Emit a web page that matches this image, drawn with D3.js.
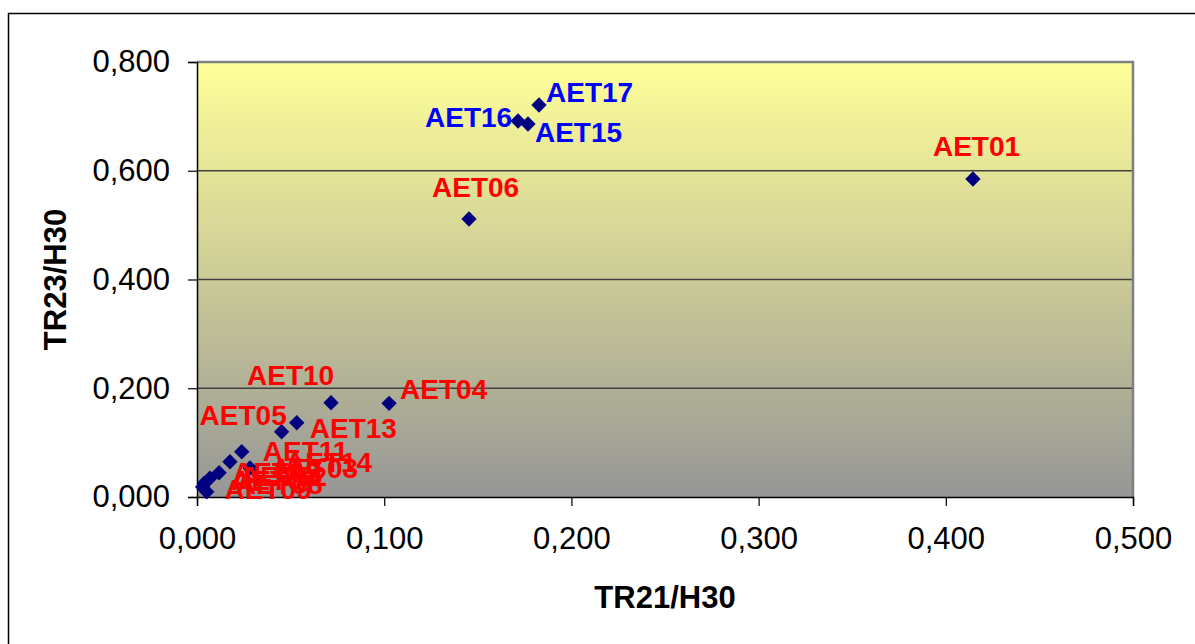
<!DOCTYPE html>
<html>
<head>
<meta charset="utf-8">
<script src="https://cdn.jsdelivr.net/npm/d3@7"></script>
<style>
  body { margin: 0; background: #fff; }
  svg { display: block; font-family: "Liberation Sans", Arial, sans-serif; }
</style>
</head>
<body>
<script>
// data
const names = ['AET01','AET02','AET03','AET04','AET05','AET06','AET07','AET08','AET09',
               'AET10','AET11','AET12','AET13','AET14','AET15','AET16','AET17'];
const xVals = [0.4145, 0.0118, 0.0283, 0.1026, 0.0452, 0.1453, 0.0039, 0.0052, 0.0030,
               0.0716, 0.0239, 0.0069, 0.0533, 0.0176, 0.1768, 0.1715, 0.1827];
const yVals = [0.5848, 0.0447, 0.0533, 0.1723, 0.1200, 0.5113, 0.0252, 0.0097, 0.0184,
               0.1734, 0.0833, 0.0344, 0.1366, 0.0649, 0.6860, 0.6915, 0.7209];
const blueGroup = ['AET15','AET16','AET17'];
const xTicks = [0, 0.1, 0.2, 0.3, 0.4, 0.5];
const yTicks = [0, 0.2, 0.4, 0.6, 0.8];

// label placement relative to the marker (left, baseline)
const labelOffset = {
  AET01: [-40, -23], AET02: [14, 9],  AET03: [21, 10], AET04: [11, -4],
  AET05: [-82, -7],  AET06: [-37, -22], AET07: [27, 7], AET08: [29, 2],
  AET09: [22, 12],   AET10: [-84, -18], AET11: [21, 9], AET12: [30, 8],
  AET13: [13, 15],   AET14: [55, 10], AET15: [7, 18], AET16: [-93, 6],
  AET17: [7, -3]
};

const width = 1195, height = 644;
const margin = {left: 197, right: 62, top: 62, bottom: 147};
const innerW = width - margin.left - margin.right;
const innerH = height - margin.top - margin.bottom;

const fmt = d => d3.format('.3f')(d).replace('.', ',');

const svg = d3.select('body').append('svg')
  .attr('width', width).attr('height', height);

// chart border
svg.append('rect')
  .attr('x', 8.5).attr('y', 13.5)
  .attr('width', width + 20).attr('height', height + 20)
  .attr('fill', '#fff').attr('stroke', '#000').attr('stroke-width', 1.5);

const defs = svg.append('defs');
const grad = defs.append('linearGradient').attr('id', 'bg')
  .attr('x1', 0).attr('y1', 0).attr('x2', 0).attr('y2', 1);
grad.append('stop').attr('offset', '0%').attr('stop-color', '#ffff99');
grad.append('stop').attr('offset', '100%').attr('stop-color', '#969696');

const g = svg.append('g').attr('transform', `translate(${margin.left},${margin.top})`);

const x = d3.scaleLinear().domain([0, 0.5]).range([0, innerW]);
const y = d3.scaleLinear().domain([0, 0.8]).range([innerH, 0]);

g.append('rect')
  .attr('width', innerW).attr('height', innerH)
  .attr('fill', 'url(#bg)');

// gridlines
g.selectAll('.grid').data(yTicks.filter(t => t > 0 && t < 0.8))
  .enter().append('line')
  .attr('x1', 0).attr('x2', innerW)
  .attr('y1', d => y(d)).attr('y2', d => y(d))
  .attr('stroke', '#404040').attr('stroke-width', 1.3);

// plot frame (top and right)
g.append('path')
  .attr('d', `M0,0H${innerW}V${innerH}`)
  .attr('fill', 'none').attr('stroke', '#808080').attr('stroke-width', 2.5);

// axes
const xAxis = g.append('g').attr('transform', `translate(0,${innerH})`)
  .call(d3.axisBottom(x).tickValues(xTicks).tickFormat(fmt).tickSize(9).tickPadding(21));
const yAxis = g.append('g')
  .call(d3.axisLeft(y).tickValues(yTicks).tickFormat(fmt).tickSize(9).tickPadding(18));

[xAxis, yAxis].forEach(a => {
  a.select('.domain').attr('stroke', '#000').attr('stroke-width', 1.5);
  a.selectAll('.tick line').attr('stroke', '#000').attr('stroke-width', 1.2);
  a.selectAll('text').attr('font-size', 31).attr('fill', '#000')
    .attr('font-family', '"Liberation Sans", Arial, sans-serif');
});

// markers
const pts = names.map((n, i) => ({name: n, x: xVals[i], y: yVals[i]}));
const diamond = d3.symbol().type(d3.symbolSquare).size(118);

g.selectAll('.pt').data(pts).enter().append('path')
  .attr('d', diamond)
  .attr('transform', d => `translate(${x(d.x)},${y(d.y)}) rotate(45)`)
  .attr('fill', '#000080');

// labels
g.selectAll('.lbl').data(pts).enter().append('text')
  .attr('x', d => x(d.x) + labelOffset[d.name][0])
  .attr('y', d => y(d.y) + labelOffset[d.name][1])
  .attr('font-size', 28).attr('font-weight', 'bold')
  .attr('fill', d => blueGroup.includes(d.name) ? '#0000ff' : '#ff0000')
  .text(d => d.name);

// axis titles
svg.append('text')
  .attr('x', margin.left + innerW / 2).attr('y', 608)
  .attr('text-anchor', 'middle')
  .attr('font-size', 31).attr('font-weight', 'bold')
  .text('TR21/H30');

svg.append('text')
  .attr('transform', `translate(66,${margin.top + innerH / 2}) rotate(-90)`)
  .attr('text-anchor', 'middle')
  .attr('font-size', 31).attr('font-weight', 'bold')
  .text('TR23/H30');
</script>
</body>
</html>
